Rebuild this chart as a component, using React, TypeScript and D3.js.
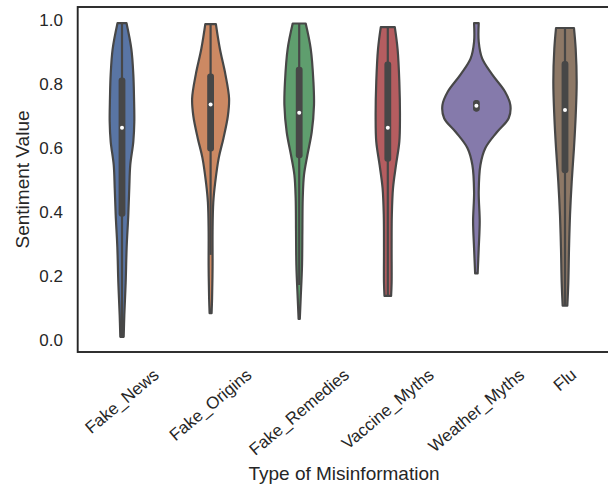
import React, { useEffect, useRef } from "react";
import * as d3 from "d3";

const categories = ["Fake_News", "Fake_Origins", "Fake_Remedies", "Vaccine_Myths", "Weather_Myths", "Flu"];
const palette = ["#5975a4", "#cc8963", "#5f9e6e", "#b55d60", "#857aab", "#8d7866"];
const yTicks = [0, 0.2, 0.4, 0.6, 0.8, 1.0];

// KDE profiles: [sentiment value, density]
const fakeNewsDensity = [[0.99, 0.78], [0.91, 1.46], [0.83, 1.74], [0.756, 1.84], [0.682, 1.88], [0.62, 1.74], [0.547, 1.31], [0.475, 1.17], [0.39, 1.03], [0.29, 0.8], [0.18, 0.66], [0.078, 0.47], [0.01, 0.38]];
const fakeOriginsDensity = [[0.987, 0.89], [0.91, 1.45], [0.83, 2.23], [0.755, 2.75], [0.7, 2.58], [0.63, 1.95], [0.57, 1.3], [0.49, 0.78], [0.43, 0.52], [0.34, 0.42], [0.23, 0.42], [0.13, 0.35], [0.084, 0.28]];
const fakeRemediesDensity = [[0.989, 1.06], [0.91, 1.77], [0.807, 2.15], [0.734, 2.23], [0.65, 1.91], [0.578, 1.3], [0.516, 0.82], [0.443, 0.64], [0.34, 0.59], [0.234, 0.54], [0.13, 0.35], [0.066, 0.18]];
const vaccineMythsDensity = [[0.978, 1.13], [0.91, 1.52], [0.807, 1.77], [0.7, 1.86], [0.62, 1.77], [0.547, 1.3], [0.475, 0.88], [0.39, 0.71], [0.29, 0.68], [0.18, 0.68], [0.138, 0.61]];
const weatherMythsDensity = [[0.99, 0.47], [0.932, 0.47], [0.88, 0.95], [0.83, 2.36], [0.776, 4.19], [0.734, 4.94], [0.693, 4.7], [0.65, 3.06], [0.6, 1.41], [0.547, 0.71], [0.463, 0.47], [0.37, 0.61], [0.287, 0.47], [0.208, 0.32]];
const fluDensity = [[0.975, 1.41], [0.91, 1.65], [0.807, 1.79], [0.7, 1.65], [0.6, 1.41], [0.495, 1.09], [0.39, 0.85], [0.287, 0.71], [0.18, 0.61], [0.107, 0.47]];
const densities = [fakeNewsDensity, fakeOriginsDensity, fakeRemediesDensity, vaccineMythsDensity, weatherMythsDensity, fluDensity];

const q1 = [0.385, 0.589, 0.568, 0.557, 0.714, 0.521];
const medians = [0.663, 0.736, 0.71, 0.663, 0.732, 0.719];
const q3 = [0.82, 0.833, 0.854, 0.87, 0.75, 0.872];
const whiskerLow = [0.01, 0.266, 0.172, 0.138, 0.714, 0.107];
const whiskerHigh = [0.99, 0.987, 0.989, 0.978, 0.75, 0.975];

const W = 608;
const H = 486;
const FONT = "'Liberation Sans', Arial, sans-serif";

export default function App() {
  const ref = useRef<SVGSVGElement>(null);
  useEffect(() => {
    const svg = d3.select(ref.current);
    svg.selectAll("*").remove();
    const left = 77.7, right = 609.3, top = 7, bottom = 352;
    const x = d3.scaleBand().domain(categories).range([left, right]).paddingInner(0).paddingOuter(0);
    const y = d3.scaleLinear().domain([0, 1]).range([340, 20]);
    const wScale = d3.scaleLinear().domain([0, 5]).range([0, 35.4]);
    const edge = "#474747";

    categories.forEach((c, i) => {
      const cx = x(c)! + x.bandwidth() / 2;
      const area = d3
        .area<number[]>()
        .y((d) => y(d[0]))
        .x0((d) => cx - Math.max(0.6, wScale(d[1]) - 1))
        .x1((d) => cx + Math.max(0.6, wScale(d[1]) - 1))
        .curve(d3.curveCatmullRom);
      svg
        .append("path")
        .attr("d", area(densities[i] as number[][])!)
        .attr("fill", palette[i])
        .attr("stroke", edge)
        .attr("stroke-width", 2.2)
        .attr("stroke-linejoin", "round");
      svg
        .append("line")
        .attr("x1", cx)
        .attr("x2", cx)
        .attr("y1", y(whiskerLow[i]))
        .attr("y2", y(whiskerHigh[i]))
        .attr("stroke", edge)
        .attr("stroke-width", 2.2);
      svg
        .append("rect")
        .attr("x", cx - 3.4)
        .attr("width", 6.8)
        .attr("y", y(q3[i]))
        .attr("height", y(q1[i]) - y(q3[i]))
        .attr("rx", 3)
        .attr("fill", edge);
      svg
        .append("circle")
        .attr("cx", cx)
        .attr("cy", y(medians[i]))
        .attr("r", 2)
        .attr("fill", "white");
    });

    // spines
    svg
      .append("rect")
      .attr("x", left)
      .attr("y", top)
      .attr("width", right - left)
      .attr("height", bottom - top)
      .attr("fill", "none")
      .attr("stroke", "#262626")
      .attr("stroke-width", 1.9);

    // y tick labels
    yTicks.forEach((t) => {
      svg
        .append("text")
        .attr("x", 63)
        .attr("y", y(t))
        .attr("text-anchor", "end")
        .attr("dominant-baseline", "central")
        .attr("font-family", FONT)
        .attr("font-size", 17)
        .attr("fill", "#262626")
        .text(d3.format(".1f")(t));
    });

    // x tick labels, rotated 40deg, bbox centered on tick
    const theta = (40 * Math.PI) / 180;
    const fs = 17;
    const lh = fs * 1.15;
    categories.forEach((c) => {
      const cx = x(c)! + x.bandwidth() / 2;
      const t = svg
        .append("text")
        .attr("text-anchor", "middle")
        .attr("dominant-baseline", "central")
        .attr("font-family", FONT)
        .attr("font-size", fs)
        .attr("fill", "#262626")
        .text(c);
      const L = (t.node() as SVGTextElement).getComputedTextLength();
      const bh = L * Math.sin(theta) + lh * Math.cos(theta);
      const cy = 365 + bh / 2;
      t.attr("transform", `translate(${cx},${cy}) rotate(-40)`);
    });

    svg
      .append("text")
      .attr("x", 344)
      .attr("y", 480)
      .attr("text-anchor", "middle")
      .attr("font-family", FONT)
      .attr("font-size", 19)
      .attr("fill", "#262626")
      .text("Type of Misinformation");

    svg
      .append("text")
      .attr("transform", `translate(29,179.5) rotate(-90)`)
      .attr("text-anchor", "middle")
      .attr("font-family", FONT)
      .attr("font-size", 19)
      .attr("fill", "#262626")
      .text("Sentiment Value");
  }, []);

  return (
    <svg
      ref={ref}
      width={W}
      height={H}
      style={{ position: "absolute", left: 0, top: 0, background: "white" }}
    />
  );
}
